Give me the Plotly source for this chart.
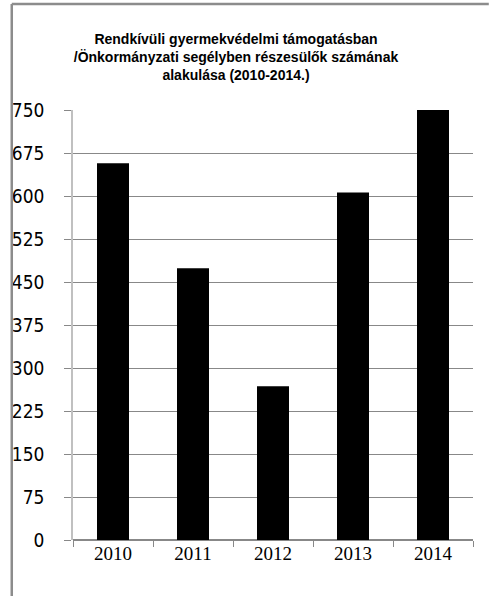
"""
Rendkívüli gyermekvédelmi támogatás / önkormányzati segély chart
"""

import plotly.graph_objects as go

years = ['2010', '2011', '2012', '2013', '2014']
recipients = [657, 474, 268, 606, 750]
y_ticks = [0, 75, 150, 225, 300, 375, 450, 525, 600, 675, 750]

title_text = ('<b>Rendkívüli gyermekvédelmi támogatásban<br>'
              '/Önkormányzati segélyben részesülők számának<br>'
              'alakulása (2010-2014.)</b>')

W, H = 489, 596
L, R, T, B = 68, 16, 110, 56
plot_w = W - L - R
plot_h = H - T - B

fig = go.Figure()
fig.add_trace(go.Bar(
    x=years,
    y=recipients,
    marker=dict(color='black', line=dict(width=0)),
    hoverinfo='x+y'
))

fig.update_layout(
    width=W,
    height=H,
    margin=dict(l=L, r=R, t=T, b=B),
    paper_bgcolor='white',
    plot_bgcolor='white',
    showlegend=False,
    bargap=0.6,
    title=dict(
        text=title_text,
        x=236 / W,
        xref='container',
        xanchor='center',
        y=1 - 44 / H,
        yanchor='middle',
        font=dict(family='Liberation Sans, Arial', size=14, color='black')
    ),
    xaxis=dict(
        type='category',
        showline=False,
        ticks='outside',
        tickson='boundaries',
        ticklen=6,
        tickcolor='#888888',
        tickfont=dict(family='Liberation Serif', size=19, color='black'),
        showgrid=False,
        zeroline=False
    ),
    yaxis=dict(
        range=[0, 750],
        tickvals=y_ticks,
        showgrid=True,
        gridcolor='#888888',
        gridwidth=1,
        zeroline=True,
        zerolinecolor='#888888',
        zerolinewidth=1.5,
        showline=True,
        linecolor='#c0c0c0',
        linewidth=1.5,
        ticks='outside',
        ticklen=7,
        tickcolor='#888888',
        ticklabelstandoff=16,
        tickfont=dict(family='DejaVu Sans Condensed, DejaVu Sans', size=19, color='black')
    )
)

# outer chart-area border (only top and left edges are visible)
left_px, top_px = 6, 4
bx = (left_px - L) / plot_w
by = 1 + (T - top_px) / plot_h
fig.add_shape(type='line', xref='paper', yref='paper',
              x0=bx, x1=(W - L) / plot_w, y0=by, y1=by,
              line=dict(color='#8c8c8c', width=2.5))
fig.add_shape(type='line', xref='paper', yref='paper',
              x0=bx, x1=bx, y0=by, y1=-B / plot_h,
              line=dict(color='#8c8c8c', width=2.5))

fig.write_html(
    "out.html",
    config={'displayModeBar': False},
    post_script=("document.body.style.margin='0';"
                 "document.body.style.overflow='hidden';"
                 "document.documentElement.style.overflow='hidden';")
)
